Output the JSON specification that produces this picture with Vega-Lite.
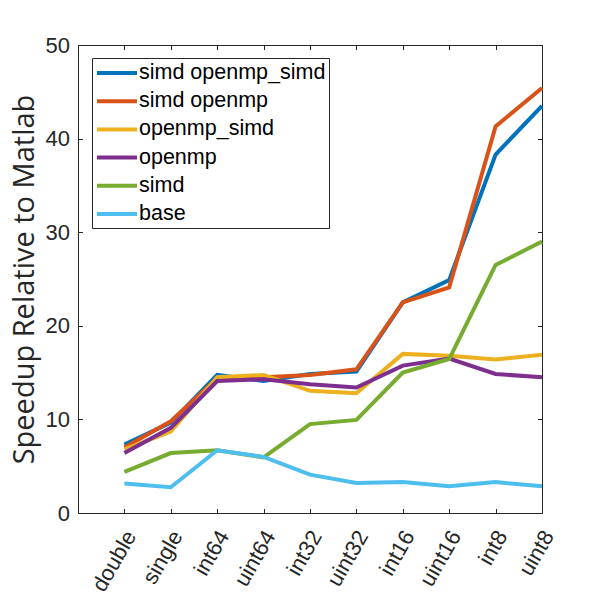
{
  "$schema": "https://vega.github.io/schema/vega-lite/v6.json",
  "autosize": "none",
  "width": 464,
  "height": 468,
  "padding": {"left": 78, "top": 45, "right": 58, "bottom": 87},
  "background": "white",
  "config": {
    "font": "Liberation Sans",
    "view": {"stroke": "#262626", "strokeWidth": 1},
    "axis": {"domain": false, "grid": false, "tickColor": "#262626", "labelColor": "#262626", "titleColor": "#262626", "labelFont": "Liberation Sans", "titleFont": "Open Sans"}
  },
  "data": {"values": [
    {"type": "double", "series": "simd openmp_simd", "value": 7.3},
    {"type": "single", "series": "simd openmp_simd", "value": 9.65},
    {"type": "int64", "series": "simd openmp_simd", "value": 14.75},
    {"type": "uint64", "series": "simd openmp_simd", "value": 14.1},
    {"type": "int32", "series": "simd openmp_simd", "value": 14.85},
    {"type": "uint32", "series": "simd openmp_simd", "value": 15.1},
    {"type": "int16", "series": "simd openmp_simd", "value": 22.5},
    {"type": "uint16", "series": "simd openmp_simd", "value": 24.9},
    {"type": "int8", "series": "simd openmp_simd", "value": 38.3},
    {"type": "uint8", "series": "simd openmp_simd", "value": 43.5},
    {"type": "double", "series": "simd openmp", "value": 7.0},
    {"type": "single", "series": "simd openmp", "value": 9.8},
    {"type": "int64", "series": "simd openmp", "value": 14.4},
    {"type": "uint64", "series": "simd openmp", "value": 14.5},
    {"type": "int32", "series": "simd openmp", "value": 14.75},
    {"type": "uint32", "series": "simd openmp", "value": 15.35},
    {"type": "int16", "series": "simd openmp", "value": 22.5},
    {"type": "uint16", "series": "simd openmp", "value": 24.1},
    {"type": "int8", "series": "simd openmp", "value": 41.3},
    {"type": "uint8", "series": "simd openmp", "value": 45.4},
    {"type": "double", "series": "openmp_simd", "value": 6.8},
    {"type": "single", "series": "openmp_simd", "value": 8.7},
    {"type": "int64", "series": "openmp_simd", "value": 14.5},
    {"type": "uint64", "series": "openmp_simd", "value": 14.75},
    {"type": "int32", "series": "openmp_simd", "value": 13.05},
    {"type": "uint32", "series": "openmp_simd", "value": 12.8},
    {"type": "int16", "series": "openmp_simd", "value": 17.0},
    {"type": "uint16", "series": "openmp_simd", "value": 16.8},
    {"type": "int8", "series": "openmp_simd", "value": 16.4},
    {"type": "uint8", "series": "openmp_simd", "value": 16.9},
    {"type": "double", "series": "openmp", "value": 6.4},
    {"type": "single", "series": "openmp", "value": 9.1},
    {"type": "int64", "series": "openmp", "value": 14.1},
    {"type": "uint64", "series": "openmp", "value": 14.3},
    {"type": "int32", "series": "openmp", "value": 13.75},
    {"type": "uint32", "series": "openmp", "value": 13.4},
    {"type": "int16", "series": "openmp", "value": 15.75},
    {"type": "uint16", "series": "openmp", "value": 16.5},
    {"type": "int8", "series": "openmp", "value": 14.85},
    {"type": "uint8", "series": "openmp", "value": 14.5},
    {"type": "double", "series": "simd", "value": 4.4},
    {"type": "single", "series": "simd", "value": 6.4},
    {"type": "int64", "series": "simd", "value": 6.7},
    {"type": "uint64", "series": "simd", "value": 5.95},
    {"type": "int32", "series": "simd", "value": 9.5},
    {"type": "uint32", "series": "simd", "value": 9.95},
    {"type": "int16", "series": "simd", "value": 15.0},
    {"type": "uint16", "series": "simd", "value": 16.45},
    {"type": "int8", "series": "simd", "value": 26.5},
    {"type": "uint8", "series": "simd", "value": 29.0},
    {"type": "double", "series": "base", "value": 3.15},
    {"type": "single", "series": "base", "value": 2.75},
    {"type": "int64", "series": "base", "value": 6.7},
    {"type": "uint64", "series": "base", "value": 6.0},
    {"type": "int32", "series": "base", "value": 4.1},
    {"type": "uint32", "series": "base", "value": 3.2},
    {"type": "int16", "series": "base", "value": 3.3},
    {"type": "uint16", "series": "base", "value": 2.85},
    {"type": "int8", "series": "base", "value": 3.3},
    {"type": "uint8", "series": "base", "value": 2.85}
  ]},
  "layer": [
    {
      "mark": {"type": "line", "strokeWidth": 4},
      "encoding": {
        "x": {"field": "type", "type": "nominal", "sort": null,
          "scale": {"type": "point", "paddingOuter": 0.5, "align": 1},
          "axis": {"title": null, "orient": "bottom", "labelAngle": -60, "labelAlign": "right", "labelBaseline": "middle", "labelFontSize": 22, "tickSize": -4.5, "labelPadding": 23.5, "labelOffset": 6}},
        "y": {"field": "value", "type": "quantitative",
          "scale": {"domain": [0, 50], "nice": false, "zero": true},
          "axis": {"title": "Speedup Relative to Matlab", "orient": "left", "values": [0, 10, 20, 30, 40, 50], "labelFontSize": 22, "titleFontSize": 29, "titleFontWeight": "normal", "tickSize": -4.5, "labelPadding": 13, "titlePadding": 6}},
        "color": {"field": "series", "type": "nominal",
          "scale": {"domain": ["simd openmp_simd", "simd openmp", "openmp_simd", "openmp", "simd", "base"],
                    "range": ["#0072BD", "#D95319", "#EDB120", "#7E2F8E", "#77AC30", "#4DBEEE"]},
          "legend": {"title": null, "orient": "none", "legendX": 14, "legendY": 13, "symbolType": "M-1,0H3", "symbolSize": 400, "symbolStrokeWidth": 4, "labelFontSize": 21.5, "labelLimit": 0, "labelColor": "black", "labelFont": "Liberation Sans", "labelOffset": 20, "rowPadding": 5.2, "strokeColor": "#262626", "fillColor": "white", "padding": 3}}
      }
    },
    {
      "mark": {"type": "line", "opacity": 0},
      "encoding": {
        "x": {"field": "type", "type": "nominal", "sort": null,
          "axis": {"title": null, "orient": "top", "labels": false, "tickSize": -4.5}},
        "y": {"field": "value", "type": "quantitative",
          "axis": {"title": null, "orient": "right", "labels": false, "values": [0, 10, 20, 30, 40, 50], "tickSize": -4.5}},
        "detail": {"field": "series"}
      }
    }
  ],
  "resolve": {"axis": {"x": "independent", "y": "independent"}}
}
